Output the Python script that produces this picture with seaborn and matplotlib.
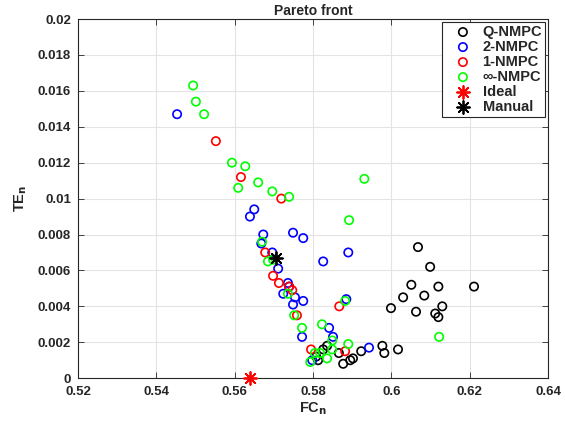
# -------------------------------------
# Import Libraries
# -------------------------------------
import matplotlib
matplotlib.use("Agg")
import matplotlib.pyplot as plt
import seaborn as sns
from matplotlib.ticker import FuncFormatter


# -------------------------------------
# Data
# -------------------------------------
q_fc = [0.6068, 0.6099, 0.6051, 0.6120, 0.6211, 0.6030, 0.6084, 0.5999,
        0.6063, 0.6130, 0.6112, 0.6120, 0.5977, 0.5982, 0.6017, 0.5923,
        0.5902, 0.5895, 0.5877, 0.5866, 0.5836, 0.5826, 0.5813, 0.5808]
q_te = [0.0073, 0.0062, 0.0052, 0.0051, 0.0051, 0.0045, 0.0046, 0.0039,
        0.0037, 0.0040, 0.0036, 0.0034, 0.0018, 0.0014, 0.0016, 0.0015,
        0.0011, 0.0010, 0.0008, 0.0014, 0.0018, 0.0016, 0.0010, 0.0012]

two_fc = [0.5453, 0.5650, 0.5639, 0.5673, 0.5668, 0.5749, 0.5775, 0.5890,
          0.5826, 0.5696, 0.5711, 0.5736, 0.5724, 0.5739, 0.5754, 0.5775,
          0.5749, 0.5885, 0.5772, 0.5841, 0.5851, 0.5943, 0.5798]
two_te = [0.0147, 0.0094, 0.0090, 0.0080, 0.0075, 0.0081, 0.0078, 0.0070,
          0.0065, 0.0070, 0.0061, 0.0053, 0.0047, 0.0051, 0.0045, 0.0043,
          0.0041, 0.0044, 0.0023, 0.0028, 0.0023, 0.0017, 0.0010]

one_fc = [0.5552, 0.5616, 0.5719, 0.5678, 0.5698, 0.5713, 0.5739, 0.5747,
          0.5759, 0.5867, 0.5795, 0.5882]
one_te = [0.0132, 0.0112, 0.0100, 0.0070, 0.0057, 0.0053, 0.0051, 0.0049,
          0.0035, 0.0040, 0.0016, 0.0015]

inf_fc = [0.5494, 0.5501, 0.5522, 0.5593, 0.5627, 0.5609, 0.5660, 0.5696,
          0.5739, 0.5931, 0.5892, 0.5670, 0.5685, 0.5698, 0.5736, 0.5752,
          0.5772, 0.5882, 0.5823, 0.5849, 0.5890, 0.5805, 0.5818, 0.5793,
          0.5836, 0.5849, 0.6122]
inf_te = [0.0163, 0.0154, 0.0147, 0.0120, 0.0118, 0.0106, 0.0109, 0.0104,
          0.0101, 0.0111, 0.0088, 0.0076, 0.0065, 0.0066, 0.0047, 0.0035,
          0.0028, 0.0043, 0.0030, 0.0021, 0.0019, 0.0014, 0.0014, 0.0009,
          0.0011, 0.0016, 0.0023]

ideal_fc = [0.5640]
ideal_te = [0.0]

manual_fc = [0.5705]
manual_te = [0.0067]

labels = ["Q-NMPC", "2-NMPC", "1-NMPC", "\u221e-NMPC", "Ideal", "Manual"]
colors = ["black", "blue", "red", "#00ff00", "red", "black"]

x_ticks = [0.52, 0.54, 0.56, 0.58, 0.60, 0.62, 0.64]
y_ticks = [0, 0.002, 0.004, 0.006, 0.008, 0.010, 0.012, 0.014, 0.016, 0.018, 0.020]


# -------------------------------------
# Style
# -------------------------------------
sns.set_theme(style="whitegrid")
plt.rcParams["font.family"] = ["Liberation Sans", "DejaVu Sans"]
plt.rcParams["font.weight"] = "bold"
plt.rcParams["mathtext.default"] = "bf"

fig = plt.figure(figsize=(5.65, 4.23), dpi=100)
ax = fig.add_axes([0.138, 0.106, 0.832, 0.849])


# -------------------------------------
# Scatter series
# -------------------------------------
series = [(q_fc, q_te), (two_fc, two_te), (one_fc, one_te), (inf_fc, inf_te)]

for (fc, te), lab, col in zip(series, labels[:4], colors[:4]):
    sns.scatterplot(
        x=fc, y=te, ax=ax,
        s=36, marker="o",
        color=col, facecolor="none", edgecolor=col,
        linewidth=1.2, label=lab, zorder=3
    )

star = (8, 2, 0)
sns.scatterplot(x=ideal_fc, y=ideal_te, ax=ax, marker=star, s=85,
                color=colors[4], linewidth=1.3, label=labels[4], zorder=4,
                clip_on=False)
sns.scatterplot(x=manual_fc, y=manual_te, ax=ax, marker=star, s=85,
                color=colors[5], linewidth=1.3, label=labels[5], zorder=4)


# -------------------------------------
# Axes formatting
# -------------------------------------
ax.set_xlim(0.52, 0.64)
ax.set_ylim(0, 0.02)
ax.set_xticks(x_ticks)
ax.set_yticks(y_ticks)

fmt = FuncFormatter(lambda v, p: "%g" % round(v, 4))
ax.xaxis.set_major_formatter(fmt)
ax.yaxis.set_major_formatter(fmt)

ax.tick_params(direction="in", length=4, width=0.6, colors="#262626",
               labelsize=9.5, top=True, right=True,
               bottom=True, left=True)
ax.tick_params(axis="x", pad=6)
ax.tick_params(axis="y", pad=5)
for lbl in ax.get_xticklabels() + ax.get_yticklabels():
    lbl.set_fontweight("bold")

ax.grid(True, color="#e3e3e3", linewidth=0.8)
for sp in ax.spines.values():
    sp.set_color("#262626")
    sp.set_linewidth(0.8)

ax.set_title("Pareto front", fontsize=10, fontweight="bold", pad=3)
ax.set_xlabel("FC$_n$", fontsize=10.5, fontweight="bold", labelpad=1)
ax.set_ylabel("TE$_n$", fontsize=10.5, fontweight="bold", labelpad=6)

leg = ax.legend(loc="upper right", fontsize=10.5, frameon=True, fancybox=False,
                framealpha=1, edgecolor="#262626", borderpad=0.2,
                labelspacing=0.07, handletextpad=0.15, handlelength=2.4,
                borderaxespad=0.2)
leg.get_frame().set_linewidth(0.8)
for t in leg.get_texts():
    t.set_fontweight("bold")

plt.savefig("out.png", dpi=100)
